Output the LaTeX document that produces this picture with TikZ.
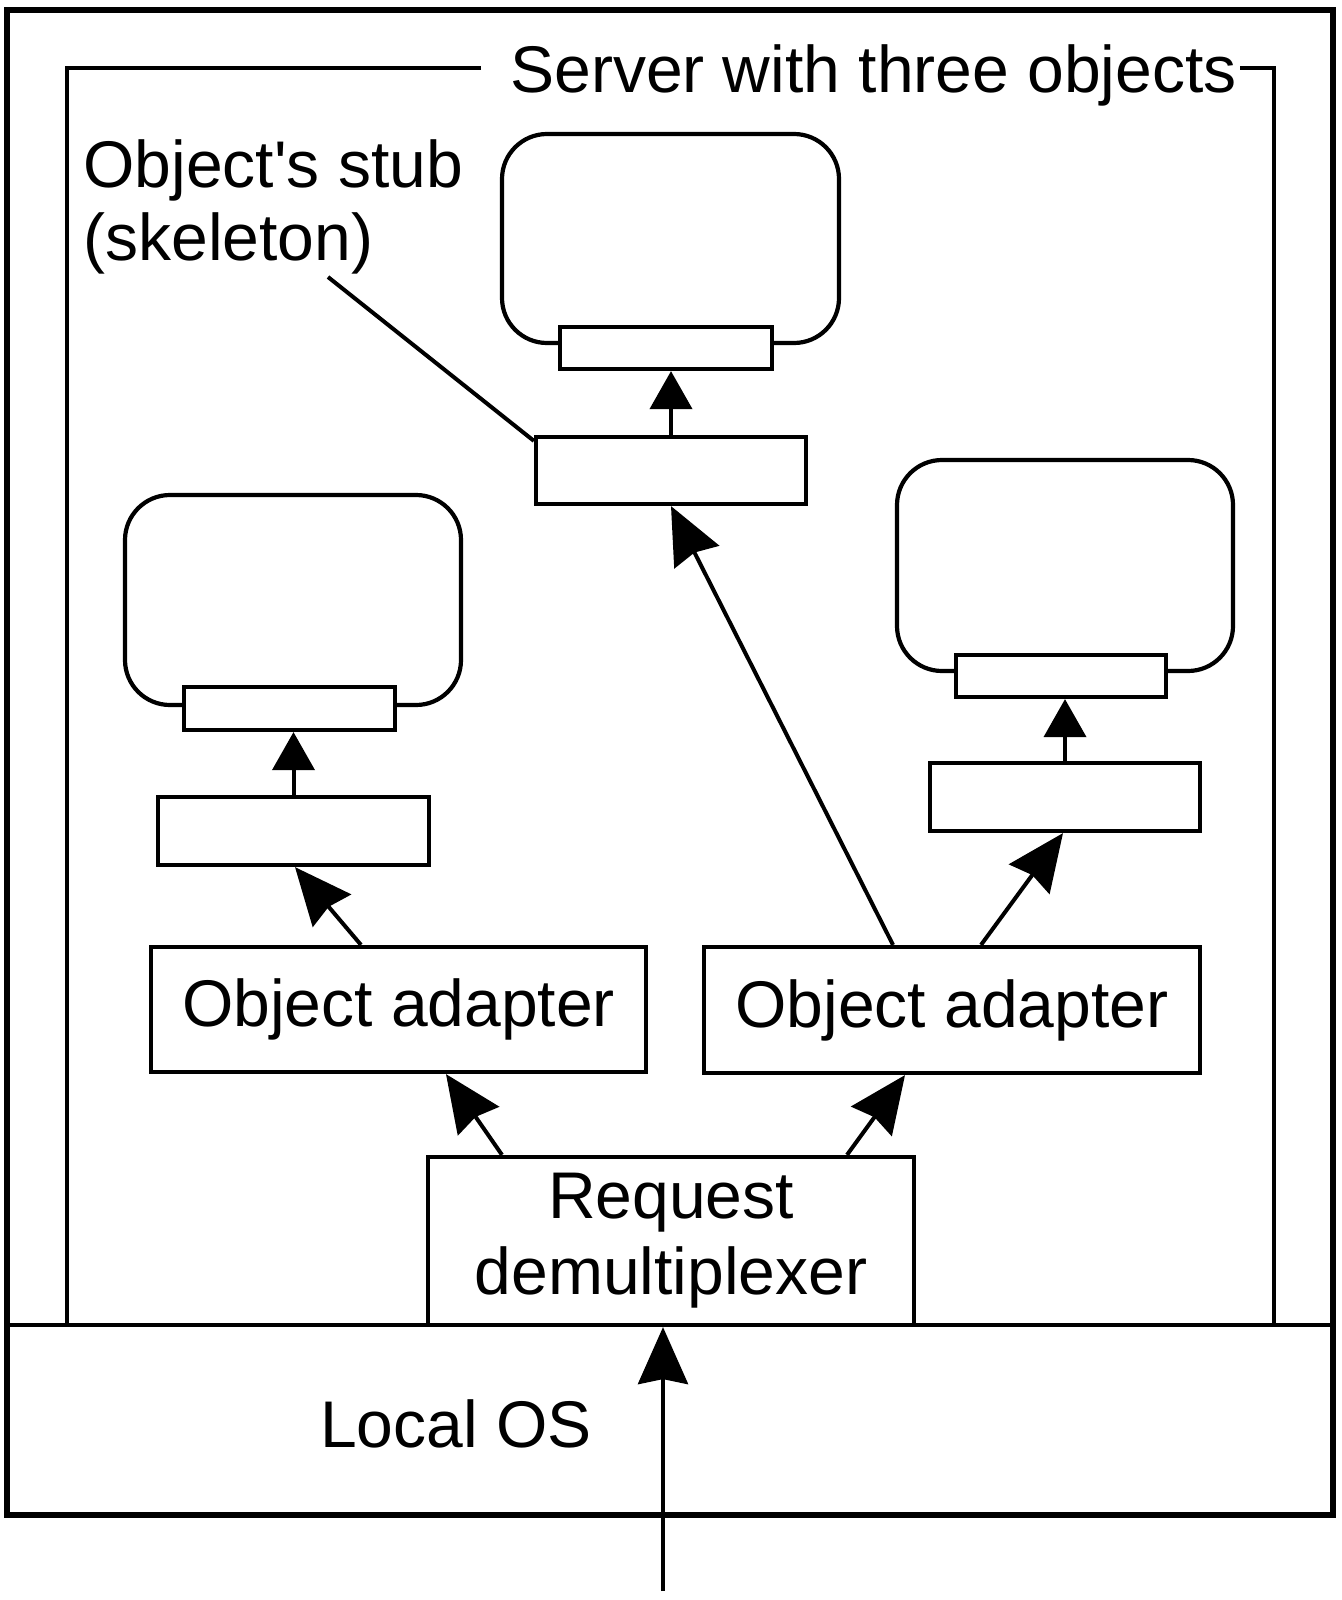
\documentclass[tikz,border=0pt]{standalone}
\usepackage{fontspec}
\setmainfont{Liberation Sans}[Ligatures=TeXOff]
\usetikzlibrary{arrows.meta}
\begin{document}
\begin{tikzpicture}[x=0.5pt,y=-0.5pt,
  every node/.style={font=\fontsize{33}{38}\selectfont},
  ln/.style={line width=2pt},
  boxn/.style={draw, line width=2.1pt, rectangle, inner sep=0pt, fill=white},
  objbox/.style={draw, line width=2.1pt, rectangle, rounded corners=22.5pt, inner sep=0pt},
  bigarr/.style={line width=2pt, -{Stealth[length=28.5pt,width=25pt,inset=2.5pt]}},
  smallarr/.style={line width=2pt, -{Triangle[length=19pt,width=21pt]}},
  txt/.style={inner sep=0pt}
]
\useasboundingbox (0,0) rectangle (1342,1600);

% outer machine box and local OS divider
\draw[line width=2.75pt] (7,10) rectangle (1333,1515);
\draw[line width=2.4pt] (7,1325) -- (1333,1325);

% server frame with title
\node[txt, anchor=base] (title) at (873.5,93) {Server with three objects};
\draw[ln] (481,68) -- (67,68) -- (67,1325);
\draw[ln] (1240,68) -- (1274,68) -- (1274,1325);

% objects (rounded) with skeleton slots
\node[objbox, minimum width=168.5pt, minimum height=104.5pt] (obj2) at (670.5,238.5) {};
\node[boxn, minimum width=106pt, minimum height=21pt] (slot2) at (666,348) {};
\node[objbox, minimum width=168pt, minimum height=105pt] (obj1) at (293,600) {};
\node[boxn, minimum width=105.5pt, minimum height=21.5pt] (slot1) at (289.5,708.5) {};
\node[objbox, minimum width=168pt, minimum height=105.5pt] (obj3) at (1065,565.5) {};
\node[boxn, minimum width=105pt, minimum height=21pt] (slot3) at (1061,676) {};

% stubs
\node[boxn, minimum width=135pt, minimum height=33.5pt] (st2) at (671,470.5) {};
\node[boxn, minimum width=135.5pt, minimum height=34pt] (st1) at (293.5,831) {};
\node[boxn, minimum width=135pt, minimum height=34pt] (st3) at (1065,797) {};

% adapters and demux
\node[boxn, minimum width=247.5pt, minimum height=62.5pt] (ad1) at (398.5,1009.5) {Object adapter};
\node[boxn, minimum width=248pt, minimum height=63pt] (ad2) at (952,1010) {Object adapter};
\node[boxn, minimum width=243pt, minimum height=84pt, align=center] (dm) at (671,1241) {Request\\demultiplexer};

% labels
\node[txt, anchor=base west, align=left, font=\fontsize{33}{36.5}\selectfont] (stublbl) at (83,260) {Object's stub\\(skeleton)};
\node[txt, anchor=base] (os) at (456,1447) {Local OS};

% leader line
\coordinate (leadA) at (328,277);
\draw[line width=2pt] (leadA) -- ([yshift=-3pt]st2.north west);

% small vertical arrows
\draw[smallarr] (st1.north) -- (st1.north |- slot1.south);
\draw[smallarr] (st2.north) -- (st2.north |- slot2.south);
\draw[smallarr] (st3.north) -- (st3.north |- slot3.south);

% big arrows
\draw[bigarr] ([xshift=-18.75pt]ad1.north) -- ([xshift=0.75pt]st1.south);
\draw[bigarr] ([xshift=-29.5pt]ad2.north) -- (st2.south);
\draw[bigarr] ([xshift=14.5pt]ad2.north) -- ([xshift=-1pt]st3.south);
\draw[bigarr] ([xshift=-84.5pt]dm.north) -- ([xshift=23.75pt]ad1.south);
\draw[bigarr] ([xshift=88pt]dm.north) -- ([xshift=-23.5pt]ad2.south);
\coordinate (inp) at (663,1591);
\draw[bigarr] (inp) -- (inp |- dm.south);
\end{tikzpicture}
\end{document}
